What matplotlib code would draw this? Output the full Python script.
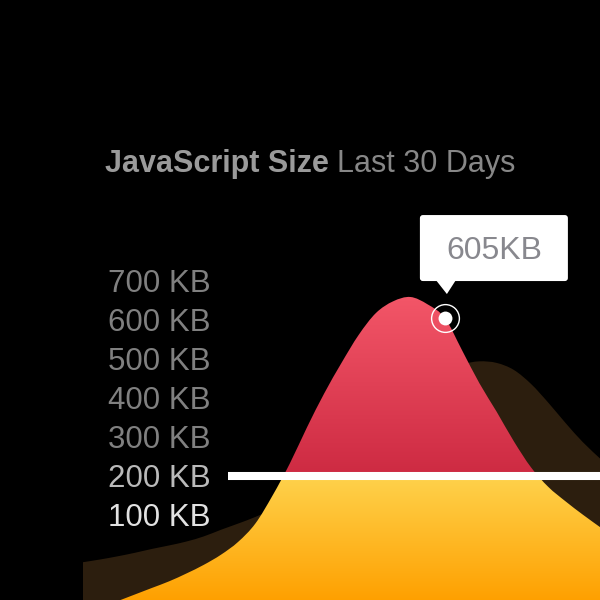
import matplotlib.pyplot as plt
import numpy as np
from matplotlib.path import Path
from matplotlib.patches import PathPatch, FancyBboxPatch, Polygon
from matplotlib.colors import to_rgb

# data (KB per day, last 30 days)
days = np.arange(31)
js_size_kb = [-150, -138, -121, -104, -87, -70, -50, -28, -2, 31, 78,
              150, 232, 325, 412, 490, 562, 618, 648, 659, 640,
              605, 522, 438, 365, 289, 222, 172, 135, 101, 69]
prev_size_kb = [-21, -14, -6, 3, 13, 22, 32, 45, 62, 78, 95,
                115, 140, 170, 205, 245, 290, 335, 378, 418, 452,
                476, 487, 494, 490, 472, 436, 388, 336, 287, 245]
tick_values = [700, 600, 500, 400, 300, 200, 100]
tick_labels = ["700 KB", "600 KB", "500 KB", "400 KB", "300 KB", "200 KB", "100 KB"]
tick_colors = ["#808080"] * 5 + ["#bababa", "#e2e2e2"]
budget_kb = 200
highlight_day = 21
highlight_label = "605KB"

W = H = 600
FONT = "Liberation Sans"


def smooth_area(x, y, base):
    # catmull-rom through the daily points, closed down to base
    pts = np.column_stack([x, y]).astype(float)
    n = len(pts)
    verts = [pts[0]]
    codes = [Path.MOVETO]
    for i in range(n - 1):
        p0 = pts[max(i - 1, 0)]
        p1 = pts[i]
        p2 = pts[i + 1]
        p3 = pts[min(i + 2, n - 1)]
        verts += [p1 + (p2 - p0) / 6, p2 - (p3 - p1) / 6, p2]
        codes += [Path.CURVE4] * 3
    verts += [(x[-1], base), (x[0], base), pts[0]]
    codes += [Path.LINETO, Path.LINETO, Path.CLOSEPOLY]
    return Path(verts, codes)


fig = plt.figure(figsize=(6, 6), dpi=100, facecolor="black")
ax = fig.add_axes([0, 0, 1, 1])
ax.set_facecolor("black")
ax.axis("off")

# older build, behind
ax.add_patch(PathPatch(smooth_area(days, prev_size_kb, -300),
                       facecolor="#2c1e0e", edgecolor="none", zorder=1))

# current build: red above budget, yellow/orange below
ys = np.linspace(-130, 720, 500)
red_lo, red_hi = np.array(to_rgb("#cd2a42")), np.array(to_rgb("#f35668"))
yel_hi, yel_lo = np.array(to_rgb("#fed24c")), np.array(to_rgb("#ffa000"))
rows = []
for yv in ys:
    if yv >= budget_kb:
        t = np.clip((yv - budget_kb) / 460, 0, 1)
        rows.append(red_lo + (red_hi - red_lo) * t)
    else:
        t = np.clip((budget_kb - yv) / 320, 0, 1)
        rows.append(yel_hi + (yel_lo - yel_hi) * t)
grad = np.array(rows)[:, None, :]
main_patch = PathPatch(smooth_area(days, js_size_kb, -300),
                       facecolor="none", edgecolor="none", zorder=2)
ax.add_patch(main_patch)
im = ax.imshow(grad, extent=(-1, 31, -130, 720), origin="lower",
               aspect="auto", interpolation="bilinear", zorder=2)
im.set_clip_path(main_patch)

# pixel layout: day 0 at x=83px, day 30 at x=600px, 0 KB at y=554px, 0.39 px per KB
px_per_day = (600 - 83) / 30
ax.set_xlim(-83 / px_per_day, 30)
ax.set_ylim(-(600 - 554) / 0.39, 554 / 0.39)

# budget line
ax.hlines(budget_kb, (228 - 83) / px_per_day, 31, color="white",
          lw=5.8, zorder=5, capstyle="butt")

# y labels
for v, lab, c in zip(tick_values, tick_labels, tick_colors):
    ax.text((211 - 83) / px_per_day, v - 28, lab, ha="right", va="baseline",
            fontsize=22.5, color=c, family=FONT, zorder=6)

# title
t1 = fig.text(105 / W, 1 - 172 / H, "JavaScript Size", fontsize=22,
              fontweight="bold", color="#9a9a9a", family=FONT, va="baseline")
fig.canvas.draw()
bb = t1.get_window_extent()
fig.text((bb.x1 + 8) / W, 1 - 172 / H, "Last 30 Days", fontsize=22,
         color="#878787", family=FONT, va="baseline")

# highlight marker + tooltip
hv = js_size_kb[highlight_day]
ax.plot(highlight_day, hv, "o", ms=10, color="white", mec="none", zorder=7)
ax.plot(highlight_day, hv, "o", ms=20, mfc="none", mec="white", mew=1, zorder=7)
mx, my = ax.transData.transform((highlight_day, hv))
box = FancyBboxPatch((mx - 25, my + 37), 148, 66,
                     boxstyle="round,pad=0,rounding_size=3",
                     facecolor="white", edgecolor="none",
                     transform=None, zorder=8)
fig.patches.append(box)
tri = Polygon([(mx - 9, my + 38), (mx + 11, my + 38), (mx + 2, my + 24)],
              closed=True, facecolor="white", edgecolor="none",
              transform=None, zorder=8)
fig.patches.append(tri)
fig.text((mx + 49) / W, (my + 59) / H, highlight_label, fontsize=23,
         color="#88888e", family=FONT, ha="center", va="baseline", zorder=9)

fig.savefig("out.png", dpi=100, facecolor="black")
